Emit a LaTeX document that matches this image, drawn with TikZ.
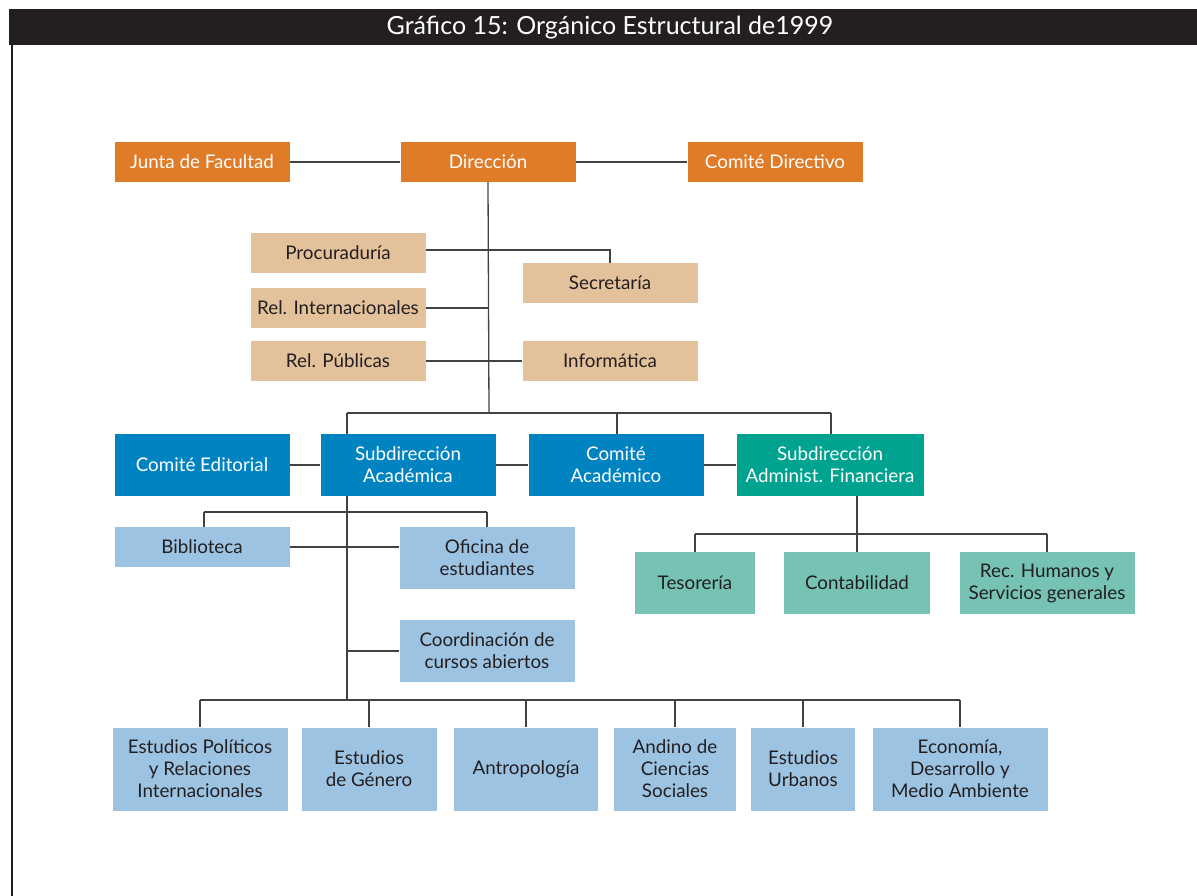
\documentclass[tikz,border=0pt]{standalone}
\usepackage{fontspec}
\setmainfont{Lato}
\usetikzlibrary{positioning,calc}

\definecolor{dirorange}{HTML}{E07B28}
\definecolor{staffsand}{HTML}{E3C19B}
\definecolor{acadblue}{HTML}{0083C1}
\definecolor{admteal}{HTML}{00A38F}
\definecolor{unitblue}{HTML}{9DC3E3}
\definecolor{unitteal}{HTML}{76C2B4}
\definecolor{inkdark}{HTML}{231F20}

\begin{document}
\begin{tikzpicture}[
    x=1pt, y=-1pt,
    every node/.style={font=\fontsize{18.8}{22}\selectfont},
    unit/.style={inner sep=0pt, minimum width=175pt, minimum height=40pt, align=center},
    top_box/.style={unit, fill=dirorange, text=white},
    staff_box/.style={unit, fill=staffsand, text=inkdark},
    acad_box/.style={unit, fill=acadblue, text=white, minimum height=62pt},
    adm_box/.style={unit, fill=admteal, text=white, minimum height=62pt},
    dept_box/.style={unit, fill=unitblue, text=inkdark},
    fin_box/.style={unit, fill=unitteal, text=inkdark, minimum height=62pt},
    link/.style={draw=inkdark!85, line width=1.3pt}
]
    \useasboundingbox (0,0) rectangle (1197,896);

    % Title bar and left rule
    \fill[inkdark] (9,9) rectangle (1197,45);
    \node[text=white, font=\fontsize{25}{28}\selectfont] (title) at (610,28) {Gráfico 15: Orgánico Estructural de1999};
    \draw[inkdark, line width=1.4pt] (12,45) -- (12,896);

    % Top level
    \node[top_box] (junta) at (202,162) {Junta de Facultad};
    \node[top_box] (dir) at (488,162) {Dirección};
    \node[top_box] (comdir) at (775,162) {Comité Directivo};

    % Staff units
    \node[staff_box] (proc) at (338,253) {Procuraduría};
    \node[staff_box] (secr) at (610,283) {Secretaría};
    \node[staff_box] (relint) at (338,308) {Rel. Internacionales};
    \node[staff_box] (relpub) at (338,361) {Rel. Públicas};
    \node[staff_box] (info) at (610,361) {Informática};

    % Second level
    \node[acad_box] (comed) at (202,465) {Comité Editorial};
    \node[acad_box] (subacad) at (408,465) {Subdirección\\Académica};
    \node[acad_box] (comacad) at (616,465) {Comité\\Académico};
    \node[adm_box, minimum width=187pt] (subadm) at (830,465) {Subdirección\\Administ. Financiera};

    % Academic services
    \node[dept_box] (bibl) at (202,547) {Biblioteca};
    \node[dept_box, minimum height=62pt] (ofic) at (487,558) {Oficina de\\estudiantes};
    \node[dept_box, minimum height=62pt] (coord) at (487,651) {Coordinación de\\cursos abiertos};

    % Administrative units
    \node[fin_box, minimum width=120pt] (teso) at (695,583) {Tesorería};
    \node[fin_box, minimum width=146pt] (conta) at (857,583) {Contabilidad};
    \node[fin_box] (rrhh) at (1047,583) {Rec. Humanos y\\Servicios generales};

    % Study programmes
    \node[dept_box, minimum height=83pt] (d1) at (200,769) {Estudios Políticos\\y Relaciones\\Internacionales};
    \node[dept_box, minimum height=83pt, minimum width=135pt] (d2) at (369,769) {Estudios\\de Género};
    \node[dept_box, minimum height=83pt, minimum width=144pt] (d3) at (526,769) {Antropología};
    \node[dept_box, minimum height=83pt, minimum width=122pt] (d4) at (675,769) {Andino de\\Ciencias\\Sociales};
    \node[dept_box, minimum height=83pt, minimum width=104pt] (d5) at (803,769) {Estudios\\Urbanos};
    \node[dept_box, minimum height=83pt] (d6) at (960,769) {Economía,\\Desarrollo y\\Medio Ambiente};

    % Bus points
    \coordinate (dirbus) at (489,413);
    \coordinate (busL) at (347,413);
    \coordinate (busR) at (831,413);
    \coordinate (midbus) at (617,413);
    \coordinate (servL) at (204,512);
    \coordinate (servR) at (487,512);
    \coordinate (acadaxis) at (347,512);
    \coordinate (coordjoin) at (347,651);
    \coordinate (deptaxis) at (347,700);
    \coordinate (deptL) at (200,700);
    \coordinate (deptR) at (960,700);
    \coordinate (finaxis) at (857,534);
    \coordinate (finL) at (695,534);
    \coordinate (finR) at (1047,534);

    % Direction links
    \draw[link] (junta) -- (dir);
    \draw[link] (dir) -- (comdir);
    \draw[link] (dir.south) -- (dirbus);
    \draw[link] ([yshift=3pt]proc.east) -| (secr.north);
    \draw[link] (relint.east) -- (relint.east -| dirbus);
    \draw[link] (relpub.east) -- (info.west);

    % Second level links
    \draw[link] (busL) -- (busR);
    \draw[link] (busL) -- (subacad.north -| busL);
    \draw[link] (midbus) -- (comacad.north -| midbus);
    \draw[link] (busR) -- (subadm.north -| busR);
    \draw[link] (comed) -- (subacad);
    \draw[link] (subacad) -- (comacad);
    \draw[link] (comacad) -- (subadm);

    % Academic services links
    \draw[link] (subacad.south -| acadaxis) -- (deptaxis);
    \draw[link] (servL) -- (servR);
    \draw[link] (servL) -- (bibl.north -| servL);
    \draw[link] (servR) -- (ofic.north);
    \draw[link] (bibl.east) -- (bibl.east -| ofic.west);
    \draw[link] (coordjoin) -- (coord.west);

    % Programme links
    \draw[link] (deptL) -- (deptR);
    \foreach \d in {d1,d2,d3,d4,d5,d6} {
        \draw[link] (\d.north |- deptL) -- (\d.north);
    }

    % Administrative links
    \draw[link] (subadm.south -| finaxis) -- (finaxis);
    \draw[link] (finL) -- (finR);
    \foreach \d in {teso,conta,rrhh} {
        \draw[link] (\d.north |- finL) -- (\d.north);
    }

\end{tikzpicture}
\end{document}
